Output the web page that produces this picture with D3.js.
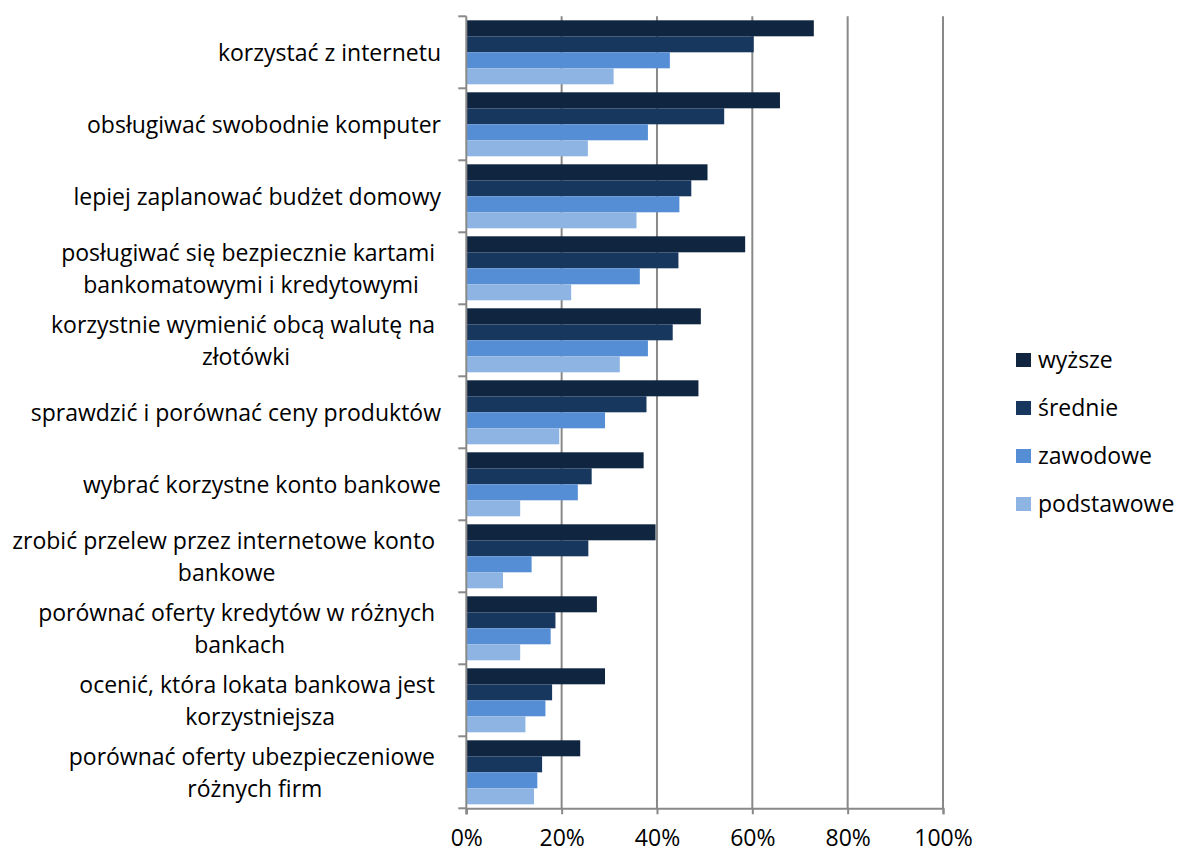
<!DOCTYPE html>
<html>
<head>
<meta charset="utf-8">
<script src="https://cdn.jsdelivr.net/npm/d3@7"></script>
<style>
  html, body { margin: 0; padding: 0; background: #fff; }
  svg text { font-family: "Open Sans", Lato, sans-serif; fill: #000; }
</style>
</head>
<body>
<svg id="chart" width="1178" height="852"></svg>
<script>
// Skills by education level (share of respondents)
const categories = [
  ["korzystać z internetu"],
  ["obsługiwać swobodnie komputer"],
  ["lepiej zaplanować budżet domowy"],
  ["posługiwać się bezpiecznie kartami", "bankomatowymi i kredytowymi"],
  ["korzystnie wymienić obcą walutę na", "złotówki"],
  ["sprawdzić i porównać ceny produktów"],
  ["wybrać korzystne konto bankowe"],
  ["zrobić przelew przez internetowe konto", "bankowe"],
  ["porównać oferty kredytów w różnych", "bankach"],
  ["ocenić, która lokata bankowa jest", "korzystniejsza"],
  ["porównać oferty ubezpieczeniowe", "różnych firm"]
];
const seriesNames = ["wyższe", "średnie", "zawodowe", "podstawowe"];
const wyzsze     = [72.9, 65.8, 50.6, 58.5, 49.2, 48.7, 37.2, 39.7, 27.4, 29.1, 23.9];
const srednie    = [60.3, 54.1, 47.2, 44.5, 43.3, 37.8, 26.3, 25.6, 18.7, 18.0, 15.9];
const zawodowe   = [42.7, 38.1, 44.7, 36.4, 38.1, 29.1, 23.4, 13.7, 17.7, 16.6, 14.9];
const podstawowe = [30.9, 25.5, 35.7, 22.0, 32.2, 19.5, 11.3,  7.7, 11.3, 12.4, 14.2];
const tickValues = [0, 20, 40, 60, 80, 100];
const colors = ["#10253F", "#17375E", "#558ED5", "#8EB4E3"];

const seriesValues = [wyzsze, srednie, zawodowe, podstawowe];
const svg = d3.select("#chart");
const FONT = "'Open Sans', Lato, sans-serif";
const FS = 23;

const x0 = 466.3, x1 = 943, yTop = 16.3, yBot = 808.3;
const x = d3.scaleLinear().domain([0, 100]).range([x0, x1]);
const catIdx = d3.range(categories.length);
const y = d3.scaleBand().domain(catIdx).range([yTop, yBot])
  .paddingInner(8 / 72).paddingOuter(4 / 72);
const ys = d3.scaleBand().domain(d3.range(seriesNames.length)).range([0, y.bandwidth()]);

const gridColor = "#898989";

// vertical gridlines
svg.append("g").selectAll("line").data(tickValues.slice(1)).join("line")
  .attr("x1", d => x(d)).attr("x2", d => x(d))
  .attr("y1", yTop).attr("y2", yBot)
  .attr("stroke", gridColor).attr("stroke-width", 2);

// bars
const groups = svg.append("g").selectAll("g").data(catIdx).join("g")
  .attr("transform", i => `translate(0,${y(i)})`);
groups.selectAll("rect")
  .data(i => seriesValues.map((vals, s) => ({ s, v: vals[i] })))
  .join("rect")
  .attr("x", x(0))
  .attr("y", d => ys(d.s))
  .attr("width", d => x(d.v) - x(0))
  .attr("height", ys.bandwidth())
  .attr("fill", d => colors[d.s]);

// x axis
const xAxis = d3.axisBottom(x).tickValues(tickValues).tickSize(6).tickFormat(d => d + "%");
const gx = svg.append("g").attr("transform", `translate(0,${yBot})`).call(xAxis);
gx.select(".domain").attr("stroke", gridColor).attr("stroke-width", 2);
gx.selectAll(".tick line").attr("stroke", gridColor).attr("stroke-width", 2);
gx.selectAll(".tick text").attr("font-size", FS).attr("dy", 0).attr("y", 37.5)
  .style("font-family", FONT).attr("fill", "#000");

// y axis with ticks at category boundaries
const boundaries = d3.range(categories.length + 1).map(i => yTop + i * y.step());
svg.append("line").attr("x1", x0).attr("x2", x0).attr("y1", yTop).attr("y2", yBot + 6)
  .attr("stroke", gridColor).attr("stroke-width", 2);
svg.append("g").selectAll("line").data(boundaries).join("line")
  .attr("x1", x0 - 8).attr("x2", x0).attr("y1", d => d).attr("y2", d => d)
  .attr("stroke", gridColor).attr("stroke-width", 2);

// category labels: block right-aligned, lines centred within the block
const labelRight = 441, lineH = 32;
const lab = svg.append("g");
categories.forEach((lines, i) => {
  const cy = y(i) + y.bandwidth() / 2;
  const g = lab.append("g");
  const texts = lines.map((ln, k) => g.append("text")
    .attr("font-size", FS)
    .style("white-space", "pre")
    .attr("text-anchor", "middle")
    .attr("y", cy + (k - (lines.length - 1) / 2) * lineH + FS * 0.37)
    .text(k < lines.length - 1 ? ln + " " : ln));
  const w = d3.max(texts, t => t.node().getComputedTextLength());
  texts.forEach(t => t.attr("x", labelRight - w / 2));
});

// legend
const leg = svg.append("g").attr("transform", "translate(1016,0)");
seriesNames.forEach((name, s) => {
  const cy = 360 + s * 48;
  leg.append("rect").attr("x", 0).attr("y", cy - 7).attr("width", 15).attr("height", 14)
    .attr("fill", colors[s]);
  leg.append("text").attr("x", 22).attr("y", cy + 8).attr("font-size", FS).text(name);
});
</script>
</body>
</html>
